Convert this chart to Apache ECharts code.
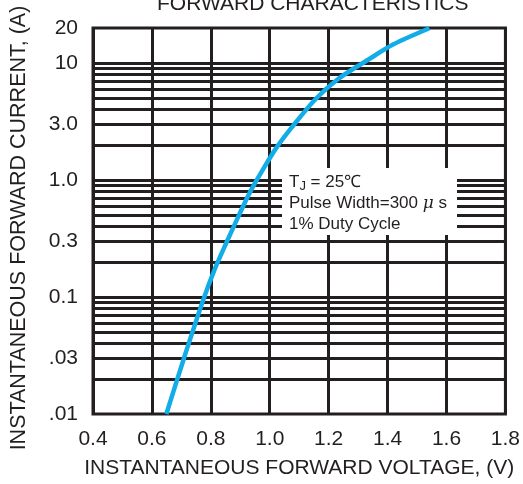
<!DOCTYPE html>
<html>
<head>
    <meta charset="utf-8">
    <script src="https://cdn.jsdelivr.net/npm/echarts@6/dist/echarts.min.js"></script>
</head>
<body style="margin:0;">
    <div id="main" style="width: 523px;height:484px;"></div>
    <script type="text/javascript">
        // curve: forward voltage (V) / forward current (A)
        var voltage = [0.649, 0.705, 0.772, 0.812, 0.855, 0.892, 0.933, 0.975, 1.020, 1.076, 1.155, 1.231, 1.334, 1.420, 1.542];
        var current = [0.010, 0.028, 0.091, 0.17, 0.30, 0.48, 0.79, 1.21, 1.85, 2.85, 4.92, 7.3, 10.7, 14.5, 19.9];

        // y tick labels as printed
        var yTickValues = [0.01, 0.03, 0.1, 0.3, 1, 3, 10, 20];
        var yTickLabels = ['.01', '.03', '0.1', '0.3', '1.0', '3.0', '10', '20'];

        // horizontal grid lines (1..9 per decade)
        var hLines = [0.02, 0.03, 0.04, 0.05, 0.06, 0.07, 0.08, 0.09,
                      0.1, 0.2, 0.3, 0.4, 0.5, 0.6, 0.7, 0.8, 0.9,
                      1, 2, 3, 4, 5, 6, 7, 8, 9, 10];

        var ink = '#231f20';
        var font = '"Liberation Sans", Arial, sans-serif';
        var narrow = '"Liberation Sans Narrow", "Arial Narrow", "Liberation Sans", sans-serif';

        var curve = voltage.map(function (v, i) { return [v, current[i]]; });

        var myChart = echarts.init(document.getElementById('main'));
        var option = {
            animation: false,
            title: {
                text: 'FORWARD CHARACTERISTICS',
                left: 152,
                top: -11,
                textStyle: { fontFamily: font, fontSize: 21, fontWeight: 'normal', color: ink }
            },
            grid: {
                left: 93, right: 15, top: 28, bottom: 70,
                show: true, borderColor: ink, borderWidth: 3, backgroundColor: '#fff'
            },
            xAxis: {
                type: 'value',
                min: 0.4, max: 1.8, interval: 0.2,
                name: 'INSTANTANEOUS FORWARD VOLTAGE, (V)',
                nameLocation: 'middle',
                nameGap: 44,
                nameTextStyle: { fontFamily: font, fontSize: 21, color: ink },
                axisLine: { show: false },
                axisTick: { show: false },
                axisLabel: {
                    fontFamily: narrow, fontSize: 21, color: ink, margin: 15,
                    formatter: function (v) { return v.toFixed(1); }
                },
                splitLine: { show: true, lineStyle: { color: ink, width: 3 } }
            },
            yAxis: {
                type: 'log',
                logBase: 10,
                min: 0.01, max: 20,
                name: 'INSTANTANEOUS FORWARD CURRENT, (A)',
                nameLocation: 'middle',
                nameGap: 63,
                nameTextStyle: { fontFamily: font, fontSize: 21.5, color: ink, padding: [0, 14, 0, 0] },
                axisLine: { show: false },
                axisTick: { show: false },
                splitLine: { show: false },
                axisLabel: {
                    fontFamily: narrow, fontSize: 21, color: ink, margin: 15,
                    customValues: yTickValues,
                    formatter: function (v) {
                        var best = 0;
                        yTickValues.forEach(function (t, i) {
                            if (Math.abs(Math.log(t) - Math.log(v)) < Math.abs(Math.log(yTickValues[best]) - Math.log(v))) best = i;
                        });
                        return yTickLabels[best];
                    }
                }
            },
            graphic: [{
                type: 'rect',
                z: 100,
                shape: { x: 282, y: 168, width: 175, height: 67 },
                style: { fill: '#fff' }
            }, {
                type: 'text',
                z: 101,
                x: 289, y: 172,
                style: {
                    text: 'T{sub|J} = 25℃\nPulse Width=300 {mu|μ} s\n1% Duty Cycle',
                    fontFamily: font, fontSize: 17, lineHeight: 21, fill: ink,
                    rich: {
                        sub: { fontFamily: font, fontSize: 13, lineHeight: 21, padding: [7, 0, 0, 0], fill: ink },
                        mu: { fontFamily: 'DejaVu Serif, serif', fontSize: 17, fontStyle: 'italic', lineHeight: 21, fill: ink }
                    }
                }
            }],
            series: [
                {
                    name: 'grid lines',
                    type: 'line',
                    data: [],
                    z: 1,
                    silent: true,
                    markLine: {
                        silent: true,
                        symbol: 'none',
                        label: { show: false },
                        lineStyle: { color: ink, width: 3, type: 'solid' },
                        data: hLines.map(function (v) { return { yAxis: v }; })
                    }
                },
                {
                    name: 'IF',
                    type: 'line',
                    z: 5,
                    data: curve,
                    smooth: 0.3,
                    showSymbol: false,
                    lineStyle: { color: '#12ace8', width: 4.5 }
                }
            ]
        };
        myChart.setOption(option);
    </script>
</body>
</html>
